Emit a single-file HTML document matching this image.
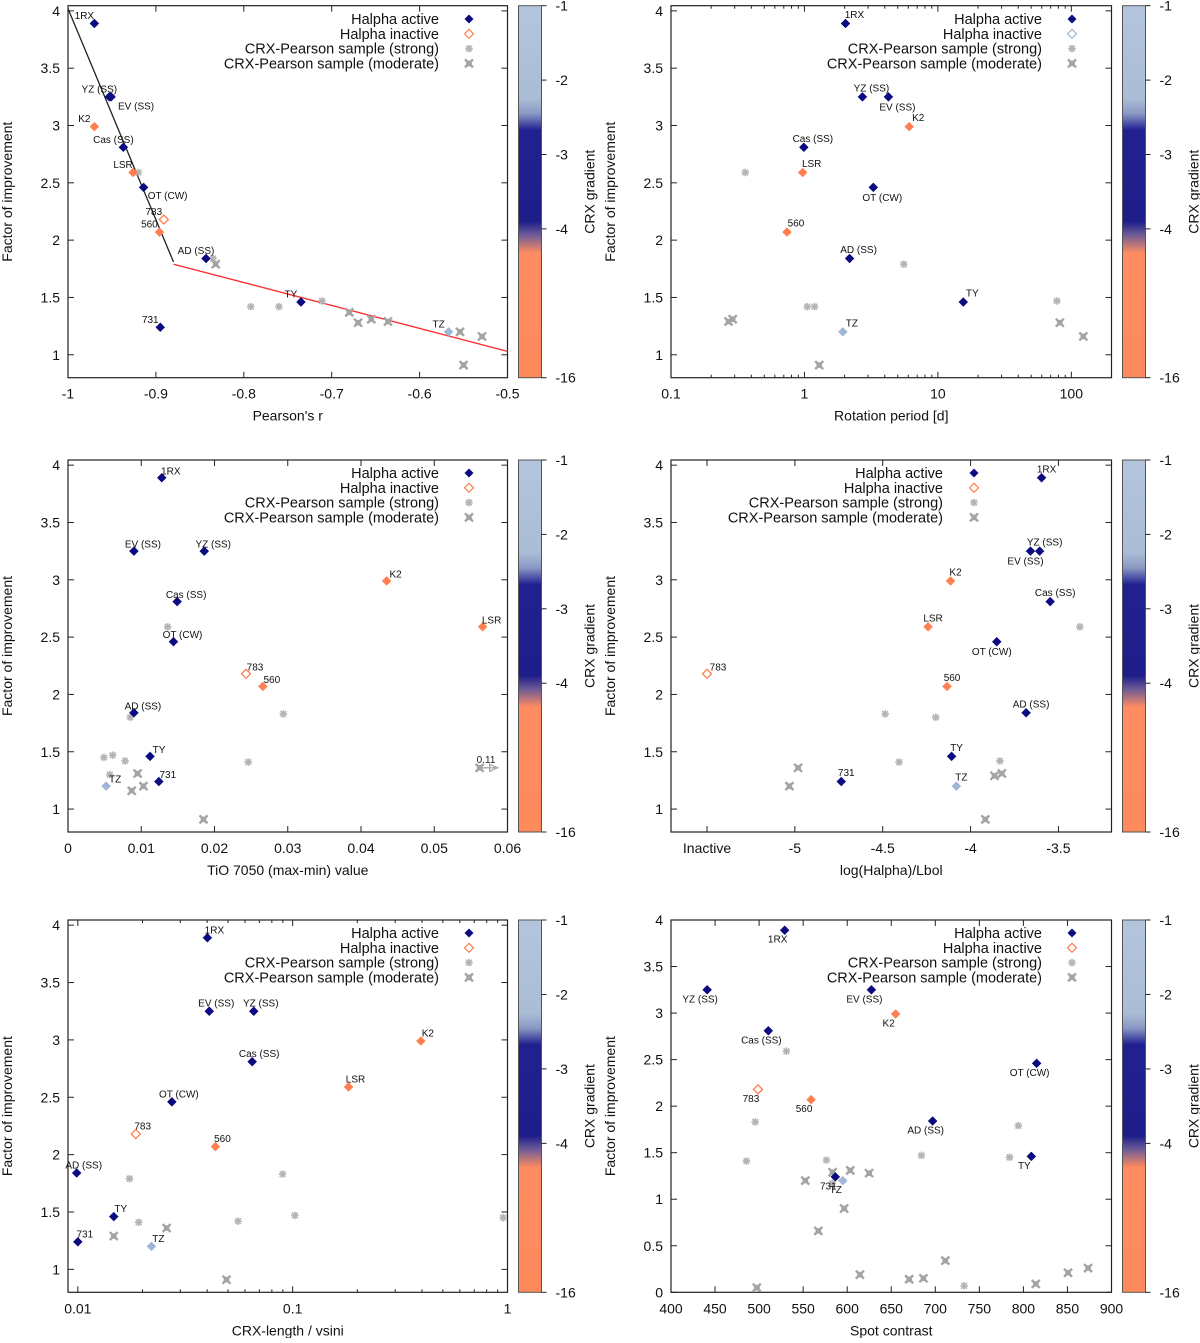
<!DOCTYPE html>
<html><head><meta charset="utf-8">
<style>
html,body{margin:0;padding:0;background:#fff;}
svg text{font-family:"Liberation Sans",sans-serif;}
</style></head>
<body>
<svg id="fig" xmlns="http://www.w3.org/2000/svg" width="1200" height="1338" viewBox="0 0 1200 1338">
<defs>
<linearGradient id="cbgrad" x1="0" y1="0" x2="0" y2="1">
<stop offset="0" stop-color="#b2c5dc"/>
<stop offset="0.25" stop-color="#aabdd6"/>
<stop offset="0.29" stop-color="#8a98c4"/>
<stop offset="0.335" stop-color="#202090"/>
<stop offset="0.58" stop-color="#1e1e8a"/>
<stop offset="0.615" stop-color="#6a5a98"/>
<stop offset="0.665" stop-color="#ff8c60"/>
<stop offset="1" stop-color="#ff8a5c"/>
</linearGradient>
</defs>
</svg>
<script>
// ---- shared star data ----
const starNames = ['1RX','YZ (SS)','EV (SS)','K2','Cas (SS)','LSR','OT (CW)','783','560','AD (SS)','TY','731','TZ'];
const starFactor = [3.89,3.25,3.25,2.99,2.81,2.59,2.46,2.18,2.07,1.84,1.46,1.24,1.20];
const starColorGroup = ['navy','navy','navy','orange','navy','orange','navy','orange','orange','navy','navy','navy','light'];
const starActive = [1,1,1,1,1,1,1,0,1,1,1,1,1];

// ---- panel 1: Pearson's r ----
const p1X = [-0.970,-0.953,-0.951,-0.970,-0.937,-0.926,-0.914,-0.891,-0.896,-0.843,-0.735,-0.895,-0.567];
const p1StrongX = [-0.920,-0.835,-0.792,-0.760,-0.711];
const p1StrongY = [2.59,1.84,1.42,1.42,1.47];
const p1ModX = [-0.832,-0.680,-0.670,-0.655,-0.636,-0.554,-0.529,-0.550];
const p1ModY = [1.79,1.37,1.28,1.31,1.29,1.20,1.16,0.91];
const p1FitBlack = [[-1.0,4.02],[-0.880,1.81]];
const p1FitRed = [[-0.880,1.79],[-0.5,1.03]];
const p1XTicks = [-1,-0.9,-0.8,-0.7,-0.6,-0.5];
const p1XTickLabels = ['-1','-0.9','-0.8','-0.7','-0.6','-0.5'];

// ---- panel 2: rotation period ----
const p2X = [2.03,2.72,4.26,6.1,0.99,0.97,3.28,null,0.74,2.18,15.5,null,1.94];
const p2StrongX = [0.36,5.56,1.05,1.19,78];
const p2StrongY = [2.59,1.79,1.42,1.42,1.47];
const p2ModX = [0.27,0.29,1.29,82,123];
const p2ModY = [1.29,1.31,0.91,1.28,1.16];
const p2XTicks = [0.1,1,10,100];
const p2XTickLabels = ['0.1','1','10','100'];

// ---- panel 3: TiO 7050 ----
const p3X = [0.0128,0.0186,0.0090,0.0435,0.0149,0.0566,0.0144,0.0243,0.0266,0.0090,0.0112,0.0124,0.0052];
const p3StrongX = [0.0136,0.0085,0.0294,0.0049,0.0061,0.0078,0.0246,0.0057];
const p3StrongY = [2.59,1.80,1.83,1.45,1.47,1.42,1.41,1.30];
const p3ModX = [0.0095,0.0087,0.0103,0.0185,0.0562];
const p3ModY = [1.31,1.16,1.20,0.91,1.36];
const p3XTicks = [0,0.01,0.02,0.03,0.04,0.05,0.06];
const p3XTickLabels = ['0','0.01','0.02','0.03','0.04','0.05','0.06'];

// ---- panel 4: log(Halpha)/Lbol ----
const p4X = [-3.596,-3.607,-3.659,-4.114,-3.547,-4.242,-3.851,-5.5,-4.134,-3.684,-4.108,-4.736,-4.081];
const p4StrongX = [-3.378,-4.486,-4.198,-4.407,-3.833];
const p4StrongY = [2.59,1.83,1.80,1.41,1.42];
const p4ModX = [-4.982,-5.031,-3.864,-3.822,-3.916];
const p4ModY = [1.36,1.20,1.29,1.31,0.91];
const p4XTicks = [-5.5,-5,-4.5,-4,-3.5];
const p4XTickLabels = ['Inactive','-5','-4.5','-4','-3.5'];

// ---- panel 5: CRX-length / vsini ----
const p5X = [0.0401,0.0659,0.0409,0.395,0.0648,0.182,0.0274,0.0186,0.0437,0.00988,0.0147,0.0100,0.0220];
const p5StrongX = [0.0174,0.0192,0.0557,0.0898,0.1024,0.955];
const p5StrongY = [1.79,1.41,1.42,1.83,1.47,1.45];
const p5ModX = [0.0147,0.0259,0.0492];
const p5ModY = [1.29,1.36,0.91];
const p5XTicks = [0.01,0.1,1];
const p5XTickLabels = ['0.01','0.1','1'];

// ---- panel 6: spot contrast ----
const p6X = [529,441,627.5,655,510.5,null,815,498.7,559,697,809,586.5,595];
const p6StrongX = [531,495.6,485.6,576.4,684.3,794.3,784.3,583,732.8];
const p6StrongY = [2.59,1.83,1.41,1.42,1.47,1.79,1.45,1.17,0.07];
const p6ModX = [552.4,583.4,603.5,624.9,596.5,567.2,614.4,670.3,686.5,711.4,497.4,814,850.7,873.4];
const p6ModY = [1.20,1.29,1.31,1.28,0.90,0.66,0.19,0.14,0.15,0.34,0.05,0.09,0.21,0.26];
const p6XTicks = [400,450,500,550,600,650,700,750,800,850,900];
const p6XTickLabels = ['400','450','500','550','600','650','700','750','800','850','900'];

const yTicksStd = [1,1.5,2,2.5,3,3.5,4];
const yTickLabelsStd = ['1','1.5','2','2.5','3','3.5','4'];
const yTicks6 = [0,0.5,1,1.5,2,2.5,3,3.5,4];
const yTickLabels6 = ['0','0.5','1','1.5','2','2.5','3','3.5','4'];
const cbTickLabels = ['-1','-2','-3','-4','-16'];

const NS='http://www.w3.org/2000/svg';
const svg=document.getElementById('fig');
const COLORS={navy:'#0b0b80',orange:'#ff7f50',light:'#9fb6d4'};
function mk(tag,attrs,parent){const e=document.createElementNS(NS,tag);for(const k in attrs)e.setAttribute(k,attrs[k]);(parent||svg).appendChild(e);return e;}

function panel(cfg){
  const g=mk('g',{});
  
  
  const L=cfg.left,R=cfg.right,T=cfg.top,B=cfg.bottom;
  const sx=cfg.log
    ? v=>L+(Math.log10(v)-Math.log10(cfg.xmin))/(Math.log10(cfg.xmax)-Math.log10(cfg.xmin))*(R-L)
    : v=>L+(v-cfg.xmin)/(cfg.xmax-cfg.xmin)*(R-L);
  const sy=v=>B-(v-cfg.ymin)/(cfg.ymax-cfg.ymin)*(B-T);
  const fr=mk('rect',{x:L,y:T,width:R-L,height:B-T,fill:'none',stroke:'#222','stroke-width':1.2},g);
  
  
  cfg.yTicks.forEach((v,i)=>{
    const y=sy(v);
    mk('line',{x1:L,y1:y,x2:L+6,y2:y,stroke:'#222','stroke-width':1},g);
    mk('line',{x1:R,y1:y,x2:R-6,y2:y,stroke:'#222','stroke-width':1},g);
    const t=mk('text',{x:L-8,y:y+5,'text-anchor':'end','font-size':14,fill:'#111'},g);
    t.textContent=cfg.yTickLabels[i];
    
    
  });
  cfg.xTicks.forEach((v,i)=>{
    const x=sx(v);
    mk('line',{x1:x,y1:B,x2:x,y2:B-6,stroke:'#222','stroke-width':1},g);
    mk('line',{x1:x,y1:T,x2:x,y2:T+6,stroke:'#222','stroke-width':1},g);
    const t=mk('text',{x:x,y:B+21,'text-anchor':'middle','font-size':14,fill:'#111'},g);
    t.textContent=cfg.xTickLabels[i];
    
    
  });
  if(cfg.log){
    const d0=Math.floor(Math.log10(cfg.xmin)),d1=Math.ceil(Math.log10(cfg.xmax));
    for(let d=d0;d<d1;d++)for(let m=2;m<=9;m++){const v=m*Math.pow(10,d);if(v<=cfg.xmin||v>=cfg.xmax)continue;const x=sx(v);
      mk('line',{x1:x,y1:B,x2:x,y2:B-3,stroke:'#222','stroke-width':1},g);
      mk('line',{x1:x,y1:T,x2:x,y2:T+3,stroke:'#222','stroke-width':1},g);}
  }
  const xt=mk('text',{x:(L+R)/2,y:B+43,'text-anchor':'middle','font-size':14,fill:'#111'},g);
  xt.textContent=cfg.xTitle;
  
  
  const yx=cfg.yTitleX, ym=(T+B)/2;
  const yt=mk('text',{x:yx,y:ym,'text-anchor':'middle','font-size':14,fill:'#111',transform:`rotate(-90 ${yx} ${ym})`},g);
  yt.textContent='Factor of improvement';
  
  
  const cbL=R+11, cbW=23;
  const cb=mk('rect',{x:cbL,y:T,width:cbW,height:B-T,fill:'url(#cbgrad)',stroke:'#555','stroke-width':1},g);
  
  
  cbTickLabels.forEach((lab,i)=>{
    const y=T+(B-T)*[0,0.2,0.4,0.6,1][i];
    mk('line',{x1:cbL+cbW,y1:y,x2:cbL+cbW+5,y2:y,stroke:'#222','stroke-width':1},g);
    const t=mk('text',{x:cbL+cbW+14,y:y+5,'font-size':14,fill:'#111'},g);
    t.textContent=lab;
    
    
  });
  const cx=cbL+cbW+53, cy=(T+B)/2;
  const ct=mk('text',{x:cx,y:cy,'text-anchor':'middle','font-size':14,fill:'#111',transform:`rotate(-90 ${cx} ${cy})`},g);
  ct.textContent='CRX gradient';
  
  
  (cfg.fits||[]).forEach(f=>{
    const ln=mk('line',{x1:sx(f.pts[0][0]),y1:sy(f.pts[0][1]),x2:sx(f.pts[1][0]),y2:sy(f.pts[1][1]),stroke:f.color,'stroke-width':1.3},g);
    
    
  });
  cfg.strongX.forEach((v,i)=>{drawStrong(g,sx(v),sy(cfg.strongY[i]));});
  cfg.modX.forEach((v,i)=>{drawMod(g,sx(v),sy(cfg.modY[i]));});
  if(cfg.arrow){
    const y=sy(cfg.arrow.y),x0=sx(cfg.arrow.x);
    const a=mk('path',{d:`M${x0} ${y} L${x0+17} ${y} M${x0+10} ${y-3.5} L${x0+18} ${y} L${x0+10} ${y+3.5} Z`,stroke:'#a8a8a8',fill:'none','stroke-width':1.3},g);
    
    
    const t=mk('text',{x:x0-3,y:y-5,'font-size':10,fill:'#222'},g);
    t.textContent=cfg.arrow.label;
    
    
  }
  starNames.forEach((n,i)=>{
    const xv=cfg.xs[i]; if(xv===null||xv===undefined)return;
    const x=sx(xv),y=sy(starFactor[i]);
    const col=COLORS[starColorGroup[i]];
    const d=mk('path',{d:`M${x} ${y-4.5} L${x+4.5} ${y} L${x} ${y+4.5} L${x-4.5} ${y} Z`,fill:starActive[i]?col:'#fff',stroke:col,'stroke-width':starActive[i]?0.5:1.3},g);
    
    
    const off=(cfg.labelOff[n])||cfg.labelDef;
    const t=mk('text',{x:x+off[0],y:y+off[1]+3.5,'text-anchor':'middle','font-size':10,fill:'#111'},g);
    t.textContent=n;
    
    
  });
  const lg=mk('g',{},g);
  
  
  const labs=['Halpha active','Halpha inactive','CRX-Pearson sample (strong)','CRX-Pearson sample (moderate)'];
  labs.forEach((lab,i)=>{
    const y=cfg.legTop+i*14.8;
    const t=mk('text',{x:cfg.legRight,y:y+5,'text-anchor':'end','font-size':14.5,fill:'#111'},lg);
    t.textContent=lab;
    
    
    const x=cfg.legSym;
    if(i===0)mk('path',{d:`M${x} ${y-4.5} L${x+4.5} ${y} L${x} ${y+4.5} L${x-4.5} ${y} Z`,fill:COLORS.navy},lg);
    if(i===1)mk('path',{d:`M${x} ${y-4.5} L${x+4.5} ${y} L${x} ${y+4.5} L${x-4.5} ${y} Z`,fill:'#fff',stroke:cfg.inactiveLegColor,'stroke-width':1.2},lg);
    if(i===2)drawStrong(lg,x,y);
    if(i===3)drawMod(lg,x,y);
  });
}
function drawStrong(g,x,y){
  const s=3.8;
  const p=mk('path',{d:`M${x-s} ${y} L${x+s} ${y} M${x} ${y-s} L${x} ${y+s} M${x-s*0.75} ${y-s*0.75} L${x+s*0.75} ${y+s*0.75} M${x-s*0.75} ${y+s*0.75} L${x+s*0.75} ${y-s*0.75}`,stroke:'#b4b4b4','stroke-width':1.6},g);
  
  
}
function drawMod(g,x,y){
  const s=4;
  const p=mk('path',{d:`M${x-s} ${y-s} L${x+s} ${y+s} M${x-s} ${y+s} L${x+s} ${y-s} M${x-s*0.7} ${y} L${x+s*0.7} ${y} M${x} ${y-s*0.7} L${x} ${y+s*0.7}`,stroke:'#a4a4a4','stroke-width':2.4},g);
  
  
}

const LC={left:68,right:507.5,yTitleX:12,legRight:439,legSym:469};
const RC={left:671,right:1111.5,yTitleX:615,legRight:1042,legSym:1072};
const R1={top:5.7,bottom:377.7}, R2={top:460,bottom:832}, R3={top:920,bottom:1292.3};

panel(Object.assign({name:'panel-pearson-r',xmin:-1,xmax:-0.5,ymin:0.8,ymax:4.045,xs:p1X,strongX:p1StrongX,strongY:p1StrongY,modX:p1ModX,modY:p1ModY,
  xTicks:p1XTicks,xTickLabels:p1XTickLabels,yTicks:yTicksStd,yTickLabels:yTickLabelsStd,xTitle:"Pearson's r",
  fits:[{pts:p1FitBlack,color:'#222',name:'fit-line-steep'},{pts:p1FitRed,color:'#ff2a2a',name:'fit-line-shallow'}],
  labelDef:[-10,-8],labelOff:{'EV (SS)':[25,9],'OT (CW)':[24,8]},legTop:19,inactiveLegColor:'#ff7f50'},LC,R1));

panel(Object.assign({name:'panel-rotation-period',log:true,xmin:0.1,xmax:200,ymin:0.8,ymax:4.045,xs:p2X,strongX:p2StrongX,strongY:p2StrongY,modX:p2ModX,modY:p2ModY,
  xTicks:p2XTicks,xTickLabels:p2XTickLabels,yTicks:yTicksStd,yTickLabels:yTickLabelsStd,xTitle:'Rotation period [d]',
  labelDef:[9,-9],labelOff:{'EV (SS)':[9,10],'OT (CW)':[9,10]},legTop:19,inactiveLegColor:'#9fb6d4'},RC,R1));

panel(Object.assign({name:'panel-tio-7050',xmin:0,xmax:0.06,ymin:0.8,ymax:4.045,xs:p3X,strongX:p3StrongX,strongY:p3StrongY,modX:p3ModX,modY:p3ModY,
  xTicks:p3XTicks,xTickLabels:p3XTickLabels,yTicks:yTicksStd,yTickLabels:yTickLabelsStd,xTitle:'TiO 7050 (max-min) value',
  arrow:{x:0.0562,y:1.36,label:'0.11'},
  labelDef:[9,-7],labelOff:{},legTop:473,inactiveLegColor:'#ff7f50'},LC,R2));

panel(Object.assign({name:'panel-log-halpha',xmin:-5.705,xmax:-3.198,ymin:0.8,ymax:4.045,xs:p4X,strongX:p4StrongX,strongY:p4StrongY,modX:p4ModX,modY:p4ModY,
  xTicks:p4XTicks,xTickLabels:p4XTickLabels,yTicks:yTicksStd,yTickLabels:yTickLabelsStd,xTitle:'log(Halpha)/Lbol',
  labelDef:[5,-9],labelOff:{'EV (SS)':[-5,10],'OT (CW)':[-5,10],'783':[11,-7]},legTop:473,inactiveLegColor:'#ff7f50'},RC,R2,{legRight:943,legSym:974}));

panel(Object.assign({name:'panel-crx-length-vsini',log:true,xmin:0.009,xmax:1,ymin:0.8,ymax:4.045,xs:p5X,strongX:p5StrongX,strongY:p5StrongY,modX:p5ModX,modY:p5ModY,
  xTicks:p5XTicks,xTickLabels:p5XTickLabels,yTicks:yTicksStd,yTickLabels:yTickLabelsStd,xTitle:'CRX-length / vsini',
  labelDef:[7,-8],labelOff:{},legTop:933,inactiveLegColor:'#ff7f50'},LC,R3));

panel(Object.assign({name:'panel-spot-contrast',xmin:400,xmax:900,ymin:0,ymax:4,xs:p6X,strongX:p6StrongX,strongY:p6StrongY,modX:p6ModX,modY:p6ModY,
  xTicks:p6XTicks,xTickLabels:p6XTickLabels,yTicks:yTicks6,yTickLabels:yTickLabels6,xTitle:'Spot contrast',
  labelDef:[-7,9],labelOff:{},legTop:933,inactiveLegColor:'#ff7f50'},RC,R3));
</script>
</body></html>
